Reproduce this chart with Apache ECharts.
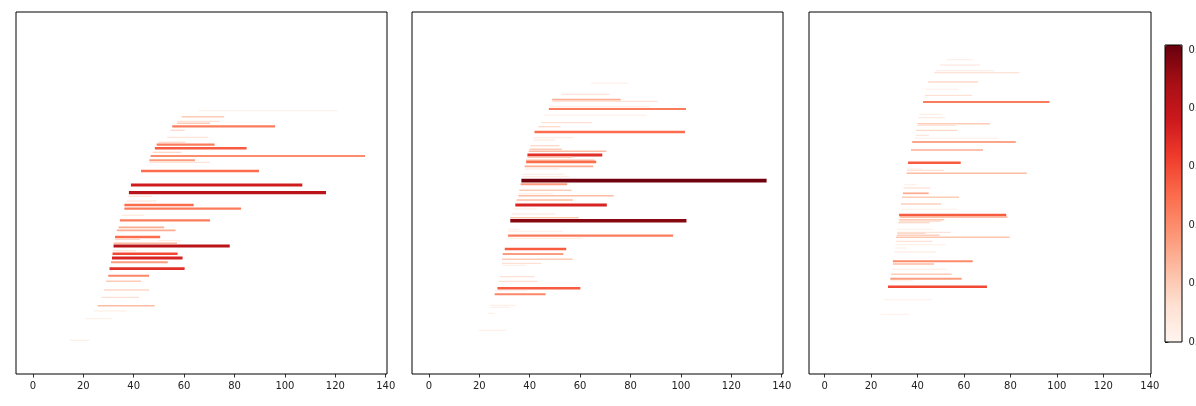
<!DOCTYPE html>
<html>
<head>
<meta charset="utf-8">
<script src="https://cdn.jsdelivr.net/npm/echarts@6/dist/echarts.min.js"></script>
<style>
  html, body { margin: 0; padding: 0; background: #fff; overflow: hidden; }
  /* wider than the window so the colorbar labels get cut at the edge, like the original */
  #chart { width: 1240px; height: 406px; }
</style>
</head>
<body>
<div id="chart"></div>
<script>
// x ticks shared by the three panels
const xTicks = [0, 20, 40, 60, 80, 100, 120, 140]
// colorbar ticks (labels are cut by the right edge)
const cbarTicks = [0, 0.2, 0.4, 0.6, 0.8, 1.0]
const cbarLabels = ['0.00', '0.02', '0.04', '0.06', '0.08', '0.10']

// panel 1 : row, start, end, level
const p1Rows = [263.3, 257.3, 252.7, 250.7, 247.7, 243.7, 236.7, 231.7, 229.3, 225.7, 221.7, 218, 213.7, 211.7, 203, 189, 181.3, 177.7, 173, 169, 165.3, 158.7, 153.7, 146.7, 143.7, 137, 134.7, 133.3, 130.7, 128, 123.3, 120.3, 116, 111.7, 105.3, 98.3, 92.7, 84, 76.7, 68.3, 63, 55.3, 33.7]
const p1Start = [65.9, 59.0, 57.3, 57.2, 55.3, 54.6, 53.3, 49.8, 49.1, 48.4, 47.5, 46.7, 46.2, 46.2, 42.9, 38.9, 38.1, 37.6, 37.2, 36.3, 36.3, 35.2, 34.5, 34.0, 33.3, 32.6, 32.6, 49.7, 32.0, 32.0, 31.8, 31.6, 31.4, 31.0, 30.4, 29.9, 29.0, 28.2, 27.1, 25.7, 24.1, 20.9, 14.6]
const p1End = [120.8, 75.9, 74.1, 70.3, 96.1, 60.2, 69.4, 60.5, 72.1, 84.8, 58.9, 131.8, 64.3, 70.3, 89.7, 106.9, 116.3, 47.4, 49.1, 63.8, 82.6, 44.2, 70.3, 52.1, 56.6, 50.5, 42.5, 58.8, 57.2, 78.1, 40.8, 57.4, 59.4, 53.5, 60.2, 46.1, 42.9, 46.1, 42.1, 48.3, 37.3, 31.2, 22.5]
const p1Level = [0.05, 0.2, 0.1, 0.2, 0.45, 0.15, 0.1, 0.15, 0.45, 0.55, 0.15, 0.4, 0.35, 0.1, 0.5, 0.75, 0.82, 0.1, 0.1, 0.5, 0.45, 0.08, 0.45, 0.3, 0.3, 0.5, 0.15, 0.05, 0.25, 0.82, 0.1, 0.6, 0.72, 0.35, 0.68, 0.42, 0.2, 0.15, 0.12, 0.25, 0.05, 0.05, 0.05]

// panel 2
const p2Rows = [290.7, 279.7, 274.3, 272.7, 267.3, 265, 258.7, 251.3, 247.3, 242, 236.3, 234, 228.3, 224.7, 222.7, 219, 216.7, 213.7, 212, 207.7, 205, 199.7, 197.3, 193.3, 189.7, 183.7, 180.3, 178.3, 174, 169, 165, 160, 156.3, 153.3, 144.7, 142.7, 138.3, 135.7, 125, 120, 114.7, 110.7, 108.7, 97.3, 92.7, 85.7, 83.3, 79.7, 68.7, 66.7, 60.7, 43.7]
const p2Start = [64.3, 52.6, 48.9, 48.9, 47.9, 47.6, 45.7, 44.5, 43.4, 41.9, 41.5, 41.5, 40.3, 39.9, 39.6, 39.1, 39.1, 38.6, 38.6, 38.0, 38.0, 37.2, 37.2, 36.7, 36.4, 35.9, 35.5, 35.5, 34.8, 34.3, 33.5, 32.7, 32.3, 32.3, 31.5, 31.4, 31.4, 31.4, 30.1, 29.3, 29.0, 29.0, 29.0, 28.1, 27.7, 27.2, 26.0, 26.1, 24.4, 24.4, 23.3, 19.9]
const p2End = [79.2, 71.7, 76.1, 90.7, 87.6, 102.0, 86.4, 64.6, 52.2, 101.6, 57.5, 50.1, 51.8, 52.7, 70.4, 68.8, 57.0, 65.8, 66.4, 65.2, 51.8, 53.8, 55.8, 134.0, 54.9, 56.6, 49.2, 73.3, 57.1, 70.6, 42.8, 50.1, 59.5, 102.2, 35.9, 53.1, 96.9, 60.9, 54.5, 53.3, 57.0, 44.5, 38.3, 41.9, 43.0, 60.1, 39.0, 46.3, 34.4, 32.0, 26.0, 30.7]
const p2Level = [0.05, 0.1, 0.3, 0.1, 0.08, 0.45, 0.05, 0.12, 0.15, 0.5, 0.08, 0.08, 0.15, 0.2, 0.25, 0.68, 0.2, 0.25, 0.5, 0.3, 0.08, 0.08, 0.08, 1.0, 0.35, 0.2, 0.08, 0.25, 0.25, 0.72, 0.05, 0.1, 0.2, 0.95, 0.05, 0.05, 0.45, 0.08, 0.55, 0.35, 0.2, 0.12, 0.05, 0.12, 0.12, 0.55, 0.05, 0.42, 0.05, 0.05, 0.05, 0.05]

// panel 3
const p3Rows = [314.3, 309, 303.3, 301.3, 292, 284.7, 278.7, 272, 259.7, 256.3, 250.3, 248.7, 243.7, 238.7, 235.7, 232, 224, 211.3, 205, 203.7, 200.7, 189.3, 186, 180.7, 176.7, 170, 164.7, 159, 157, 154.3, 153, 151.3, 144.7, 141.7, 140.7, 138.7, 136.7, 132.7, 129.3, 126, 122, 112.7, 110, 104.7, 99.7, 95.3, 93.3, 87.3, 74.3, 59.7]
const p3Start = [52.6, 49.7, 47.8, 47.2, 44.6, 43.5, 43.2, 42.4, 40.8, 40.3, 40.0, 40.0, 39.3, 39.2, 38.9, 37.7, 37.2, 35.9, 35.4, 35.5, 35.3, 34.4, 34.0, 33.7, 33.3, 32.9, 32.9, 32.1, 32.4, 32.1, 32.0, 31.7, 31.2, 31.2, 31.2, 31.2, 30.7, 30.7, 30.6, 30.2, 30.2, 29.4, 29.4, 29.0, 28.7, 28.3, 28.3, 27.3, 25.4, 24.0]
const p3End = [63.8, 66.9, 72.9, 83.8, 66.0, 57.9, 63.5, 96.8, 50.0, 51.8, 71.2, 56.4, 57.0, 44.9, 75.0, 82.3, 68.2, 58.6, 42.0, 51.5, 87.0, 39.5, 45.5, 44.8, 57.9, 50.2, 57.0, 78.2, 78.7, 51.5, 50.1, 45.2, 46.7, 54.3, 43.5, 49.5, 79.7, 46.5, 52.0, 35.2, 47.9, 63.8, 47.1, 52.7, 54.7, 59.0, 38.0, 69.9, 46.1, 36.3]
const p3Level = [0.05, 0.1, 0.08, 0.1, 0.15, 0.05, 0.12, 0.45, 0.05, 0.08, 0.2, 0.1, 0.15, 0.1, 0.05, 0.32, 0.3, 0.55, 0.05, 0.12, 0.25, 0.05, 0.12, 0.3, 0.2, 0.18, 0.05, 0.55, 0.3, 0.2, 0.15, 0.15, 0.05, 0.1, 0.15, 0.18, 0.22, 0.1, 0.05, 0.05, 0.08, 0.4, 0.25, 0.06, 0.2, 0.35, 0.05, 0.6, 0.05, 0.04]

const reds = ['#fff5f0', '#fee0d2', '#fcbba1', '#fc9272', '#fb6a4a', '#ef3b2c', '#cb181d', '#a50f15', '#67000d']
const cbarMax = 1.017

function buildData (rows, starts, ends, levels) {
  return rows.map((r, i) => [starts[i], ends[i], r, levels[i]])
}

function renderSeg (params, api) {
  const a = api.coord([api.value(0), api.value(2)])
  const b = api.coord([api.value(1), api.value(2)])
  const v = api.value(3)
  return {
    type: 'line',
    shape: { x1: a[0], y1: a[1], x2: b[0], y2: b[1] },
    style: { stroke: api.visual('color'), lineWidth: 0.9 + 2.8 * v }
  }
}

const grids = [
  { left: 16, top: 12, width: 371, height: 362 },
  { left: 412, top: 12, width: 371, height: 362 },
  { left: 809, top: 12, width: 342, height: 362 }
]

const chart = echarts.init(document.getElementById('chart'))
const font = 'DejaVu Sans'

const option = {
  animation: false,
  textStyle: { fontFamily: font },
  grid: grids.map(g => Object.assign({ show: true, borderColor: '#000', borderWidth: 1, backgroundColor: '#fff' }, g))
    .concat([{ left: 1165, top: 45, width: 17, height: 297, show: true, borderColor: '#000', borderWidth: 1, z: 10 }]),
  xAxis: grids.map((g, i) => ({
    type: 'value',
    gridIndex: i,
    min: -6.7,
    max: 140.5,
    splitLine: { show: false },
    axisLine: { show: false },
    axisTick: { show: true, length: 3.5, lineStyle: { color: '#000', width: 0.8 }, customValues: xTicks },
    axisLabel: { fontSize: 10, color: '#222', fontFamily: font, margin: 7, customValues: xTicks }
  })).concat([{ type: 'value', gridIndex: 3, show: false, min: 0, max: 1 }]),
  yAxis: grids.map((g, i) => ({
    type: 'value',
    gridIndex: i,
    min: 0,
    max: 362,
    show: false
  })).concat([{
    type: 'value',
    gridIndex: 3,
    position: 'right',
    min: 0,
    max: cbarMax,
    splitLine: { show: false },
    axisLine: { show: false },
    axisTick: { show: true, length: 3.5, lineStyle: { color: '#000', width: 0.8 }, customValues: cbarTicks },
    axisLabel: {
      fontSize: 10, color: '#222', fontFamily: font, margin: 6.5, customValues: cbarTicks,
      formatter: v => cbarLabels[Math.round(v / 0.2)]
    }
  }]),
  visualMap: {
    type: 'continuous',
    min: 0,
    max: cbarMax,
    dimension: 3,
    seriesIndex: [0, 1, 2],
    left: 1165,
    top: 45,
    padding: 0,
    itemWidth: 17,
    itemHeight: 297,
    calculable: false,
    hoverLink: false,
    text: null,
    inRange: { color: reds }
  },
  series: [
    buildData(p1Rows, p1Start, p1End, p1Level),
    buildData(p2Rows, p2Start, p2End, p2Level),
    buildData(p3Rows, p3Start, p3End, p3Level)
  ].map((d, i) => ({
    type: 'custom',
    xAxisIndex: i,
    yAxisIndex: i,
    renderItem: renderSeg,
    encode: { x: [0, 1], y: 2 },
    clip: true,
    data: d
  }))
}

chart.setOption(option)
</script>
</body>
</html>
